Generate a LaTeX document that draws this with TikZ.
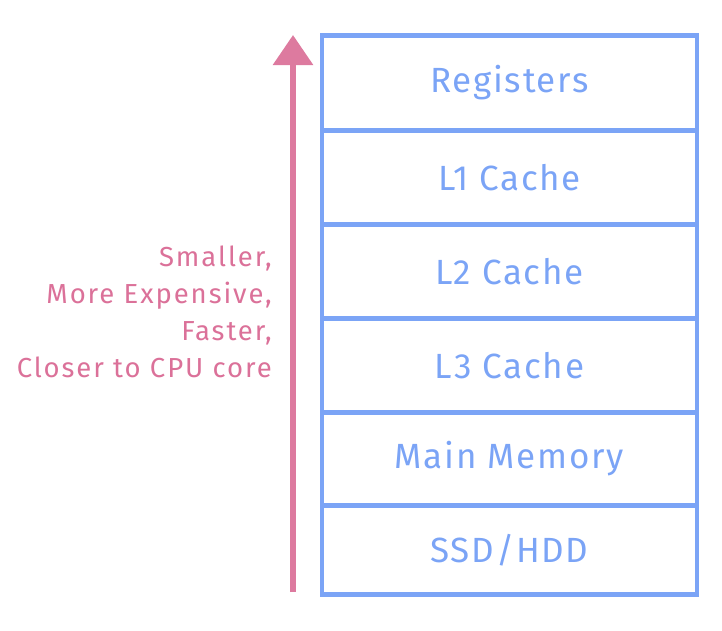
\documentclass[tikz,border=0pt]{standalone}
\usepackage{fontspec}
\setmainfont{Fira Sans}
\newfontfamily\cellfont[LetterSpace=5]{Fira Sans}
\newfontfamily\sidefont[LetterSpace=7]{Fira Sans}
\usetikzlibrary{arrows.meta}
\definecolor{cellblue}{HTML}{7BA4F6}
\definecolor{arrowpink}{HTML}{DD7A9F}
\definecolor{textpink}{HTML}{DB7199}
\tikzset{
  cell/.style={draw=cellblue, line width=4.5pt, minimum width=375pt, inner sep=0pt,
    text=cellblue, font=\cellfont\fontsize{35}{40}\selectfont, anchor=north},
  uparrow/.style={draw=arrowpink, line width=6pt,
    -{Triangle[width=39pt,length=30pt]}},
  sidelabel/.style={text=textpink, align=right, anchor=east, inner sep=0pt,
    font=\sidefont\fontsize{27.5}{37}\selectfont}
}
\begin{document}
\begin{tikzpicture}[x=1pt,y=-1pt]
\useasboundingbox (0,0) rectangle (722,630);
\node[cell, minimum height=95pt] (reg) at (509.5,33) {Registers};
\node[cell, minimum height=94pt] (l1) at (509.5,128) {L1 Cache};
\node[cell, minimum height=94pt] (l2) at (509.5,222) {L2 Cache};
\node[cell, minimum height=94pt] (l3) at (509.5,316) {L3 Cache};
\node[cell, minimum height=93pt] (mem) at (509.5,410) {Main Memory};
\node[cell, minimum height=89pt] (ssd) at (509.5,503) {SSD/HDD};
\coordinate (abot) at (293,592);
\coordinate (atop) at (293,35);
\draw[uparrow] (abot) -- (atop);
\node[sidelabel] (lbl) at (272,312) {Smaller,\\More Expensive,\\Faster,\\Closer to CPU core};
\end{tikzpicture}
\end{document}
